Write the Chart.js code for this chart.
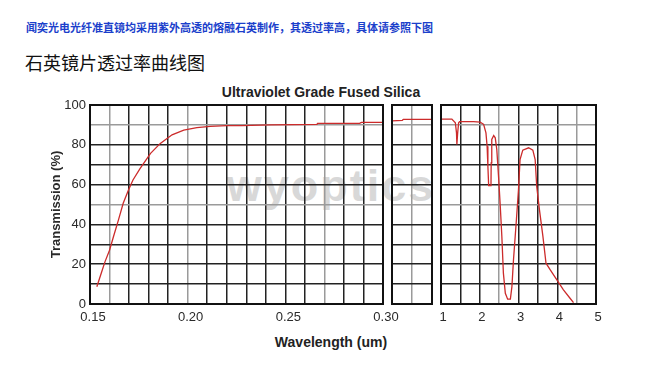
<!DOCTYPE html>
<html>
<head>
<meta charset="utf-8">
<script src="https://cdn.jsdelivr.net/npm/chart.js@4.4.1/dist/chart.umd.min.js"></script>
<style>
  body { margin: 0; background: #fff; }
  #wrap { position: relative; width: 650px; height: 390px; overflow: hidden; }
  #wrap canvas { position: absolute; left: 0; top: 0; }
  .txt { position: absolute; white-space: nowrap; }
  #intro { left: 26px; top: 19px; font: bold 11px "Noto Sans CJK SC", sans-serif; color: #1b3fcb; }
  #heading { left: 25px; top: 49px; font: 18px "Noto Sans CJK SC", sans-serif; color: #111; }
  #title { left: 321px; top: 84px; transform: translateX(-50%); font: bold 14px "Liberation Sans", Arial, sans-serif; color: #222; }
  #xtitle { left: 331px; top: 334px; transform: translateX(-50%); font: bold 14px "Liberation Sans", Arial, sans-serif; color: #222; }
  #mark { left: 331px; top: 160px; transform: translateX(-50%); font: bold 45px "Liberation Sans", Arial, sans-serif; letter-spacing: 2px; color: #d8d8d8; }
</style>
</head>
<body>
<div id="wrap">
  <div class="txt" id="intro">闻奕光电光纤准直镜均采用紫外高透的熔融石英制作，其透过率高，具体请参照下图</div>
  <div class="txt" id="heading">石英镜片透过率曲线图</div>
  <div class="txt" id="title">Ultraviolet Grade Fused Silica</div>
  <div class="txt" id="mark">wyoptics</div>
  <div class="txt" id="xtitle">Wavelength (um)</div>
  <canvas id="uvChart" width="650" height="390"></canvas>
  <canvas id="midChart" width="650" height="390"></canvas>
  <canvas id="irChart" width="650" height="390"></canvas>
</div>
<script>
// UV panel, 0.15 - 0.30 um
const uvWavelength = [0.1535, 0.156, 0.1577, 0.160, 0.162, 0.1645, 0.167, 0.1697, 0.172, 0.1756, 0.181, 0.186,
  0.192, 0.198, 0.2047, 0.2115, 0.22, 0.2277, 0.2423, 0.2662, 0.2665, 0.288, 0.289, 0.30];
const uvTransmission = [8.7, 16.2, 21.3, 27, 33.8, 42, 50.6, 57.3, 62.3, 68, 75.7, 80.7,
  85, 87.4, 88.6, 89.3, 89.6, 89.6, 90, 90.3, 90.8, 90.8, 91.3, 91.3];

// short middle panel (axis break, no labels)
const midWavelength = [0.30, 0.48, 0.50, 1.0];
const midTransmission = [92, 92.3, 92.8, 92.8];

// IR panel, 1 - 5 um
const irWavelength = [1.0, 1.28, 1.37, 1.40, 1.41, 1.43, 1.455, 1.48, 1.84, 2.01, 2.1, 2.16, 2.19, 2.21, 2.23, 2.29,
  2.295, 2.31, 2.36, 2.4, 2.44, 2.49, 2.53, 2.57, 2.61, 2.66, 2.72, 2.79, 2.83, 2.87, 2.94, 3.0, 3.04, 3.11,
  3.26, 3.37, 3.43, 3.47, 3.54, 3.63, 3.71, 3.82, 3.99, 4.16, 4.33, 4.42];
const irTransmission = [92.9, 92.9, 91.1, 86, 80.2, 86, 91.1, 91.6, 91.6, 91.4, 90.3, 86, 79.3, 69.2, 59.5, 59.5,
  70.9, 82.7, 84.7, 83.5, 77.6, 62.5, 49, 34, 15.5, 5.4, 2.4, 2.4, 8.7, 22, 40.7, 57.5, 72.6, 77.3,
  78.5, 77.3, 72.6, 59.2, 47.4, 34, 20.5, 17.1, 12.1, 7.1, 2.9, 0.7];

const uvTickLabels = [0.15, 0.20, 0.25, 0.30];
const irTickLabels = [1, 2, 3, 4, 5];
const yTickLabels = [0, 20, 40, 60, 80, 100];

// grid lines that look lighter in the scan
const yLightLines = [50, 90];
const uvLightLines = [0.16, 0.20, 0.27];
const irLightLines = [2.5, 4.5];

const near = (list, v) => list.some(t => Math.abs(t - v) < 1e-6);
const toPoints = (xs, ys) => xs.map((x, i) => ({ x: x, y: ys[i] }));

Chart.defaults.font.family = "'Liberation Sans Narrow', 'Liberation Sans', Arial, sans-serif";
Chart.defaults.font.size = 13;
Chart.defaults.color = '#2a2a2a';

const frame = {
  id: 'frame',
  afterDraw(chart) {
    const { ctx, chartArea: a } = chart;
    ctx.save();
    ctx.strokeStyle = '#111';
    ctx.lineWidth = 2;
    ctx.strokeRect(a.left, a.top, a.right - a.left, a.bottom - a.top);
    ctx.restore();
  }
};

function gridColor(light) {
  return c => (c.tick && near(light, c.tick.value)) ? '#9a9a9a' : '#222';
}

function yScale(showLabels) {
  return {
    type: 'linear',
    min: 0,
    max: 100,
    border: { display: false },
    grid: { color: gridColor(yLightLines), lineWidth: 1.5, drawTicks: false },
    ticks: {
      display: showLabels,
      stepSize: 10,
      padding: 4,
      callback: v => near(yTickLabels, v) ? String(v) : ''
    },
    title: {
      display: showLabels,
      text: 'Transmission (%)',
      font: { family: "'Liberation Sans', Arial, sans-serif", size: 13, weight: 'bold' },
      padding: { top: 4, bottom: 0 }
    },
    afterFit: s => { s.width = showLabels ? 45 : 0; }
  };
}

function lineData(xs, ys) {
  return {
    datasets: [{
      data: toPoints(xs, ys),
      borderColor: '#cc2b2b',
      borderWidth: 1.3,
      pointRadius: 0,
      tension: 0
    }]
  };
}

const baseOptions = {
  responsive: false,
  animation: false,
  devicePixelRatio: 1,
  plugins: { legend: { display: false }, tooltip: { enabled: false } }
};

new Chart(document.getElementById('uvChart'), {
  type: 'line',
  data: lineData(uvWavelength, uvTransmission),
  plugins: [frame],
  options: {
    ...baseOptions,
    layout: { padding: { left: 45, right: 267, top: 105, bottom: 56 } },
    scales: {
      x: {
        type: 'linear',
        min: 0.15,
        max: 0.30,
        border: { display: false },
        grid: { color: gridColor(uvLightLines), lineWidth: 1.5, drawTicks: false },
        ticks: {
          stepSize: 0.01,
          autoSkip: false,
          maxRotation: 0,
          padding: 6,
          labelOffset: 3,
          callback: v => near(uvTickLabels, v) ? v.toFixed(2) : ''
        },
        afterFit: s => { s.height = 30; }
      },
      y: yScale(true)
    }
  }
});

new Chart(document.getElementById('midChart'), {
  type: 'line',
  data: lineData(midWavelength, midTransmission),
  plugins: [frame],
  options: {
    ...baseOptions,
    layout: { padding: { left: 392, right: 218, top: 105, bottom: 86 } },
    scales: {
      x: {
        type: 'linear',
        min: 0.30,
        max: 1.0,
        border: { display: false },
        grid: { color: c => c.index === 1 ? '#9a9a9a' : '#222', lineWidth: 1.5, drawTicks: false },
        ticks: { display: false, stepSize: 0.35 },
        afterFit: s => { s.height = 0; }
      },
      y: yScale(false)
    }
  }
});

new Chart(document.getElementById('irChart'), {
  type: 'line',
  data: lineData(irWavelength, irTransmission),
  plugins: [frame],
  options: {
    ...baseOptions,
    layout: { padding: { left: 441, right: 54, top: 105, bottom: 56 } },
    scales: {
      x: {
        type: 'linear',
        min: 1,
        max: 5,
        border: { display: false },
        grid: { color: gridColor(irLightLines), lineWidth: 1.5, drawTicks: false },
        ticks: {
          stepSize: 0.5,
          autoSkip: false,
          maxRotation: 0,
          padding: 6,
          labelOffset: 2,
          callback: v => near(irTickLabels, v) ? String(v) : ''
        },
        afterFit: s => { s.height = 30; }
      },
      y: yScale(false)
    }
  }
});
</script>
</body>
</html>
